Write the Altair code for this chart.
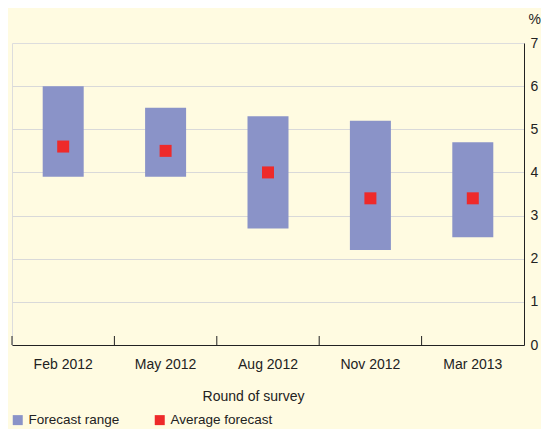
import altair as alt
import pandas as pd

rounds = ["Feb 2012", "May 2012", "Aug 2012", "Nov 2012", "Mar 2013"]
low = [3.9, 3.9, 2.7, 2.2, 2.5]
high = [6.0, 5.5, 5.3, 5.2, 4.7]
avg = [4.6, 4.5, 4.0, 3.4, 3.4]
y_ticks = [0, 1, 2, 3, 4, 5, 6, 7]

df = pd.DataFrame({"round": rounds, "low": low, "high": high, "avg": avg})

FONT = "Liberation Sans"
TXT = "#222222"
BG = "#FFFBE1"
FS = 14

W, H = 512, 302

x_enc = alt.X(
    "round:N",
    sort=rounds,
    scale=alt.Scale(paddingInner=0, paddingOuter=0),
    axis=alt.Axis(
        title="Round of survey",
        labelAngle=0,
        ticks=False,
        labelPadding=12,
        labelFontSize=FS,
        labelColor=TXT,
        titleFontSize=FS,
        titleFontWeight="normal",
        titleColor=TXT,
        titleX=241,
        titleY=55,
        titleAlign="center",
        titleAnchor="start",
        titleBaseline="alphabetic",
        domainColor=TXT,
        domainWidth=1,
        grid=False,
    ),
)

y_scale = alt.Scale(domain=[0, 7], nice=False)

color_scale = alt.Scale(
    domain=["Forecast range", "Average forecast"], range=["#8A93C8", "#EE2A2A"]
)

legend = alt.Legend(
    title=None,
    orient="none",
    direction="horizontal",
    legendX=-1,
    legendY=370,
    symbolType="square",
    symbolSize=100,
    symbolStrokeWidth=0,
    labelFontSize=13.5,
    labelColor=TXT,
    labelOffset=4,
    columnPadding=33,
    labelFont=FONT,
)

bars = alt.Chart(df).transform_calculate(series="'Forecast range'").mark_bar(size=41).encode(
    x=x_enc,
    y=alt.Y(
        "low:Q",
        scale=y_scale,
        axis=alt.Axis(
            orient="right",
            values=y_ticks,
            title="%",
            titleAngle=0,
            titleAlign="left",
            titleBaseline="alphabetic",
            titleX=4,
            titleY=-20,
            titleFontSize=FS,
            titleFontWeight="normal",
            titleColor=TXT,
            labelAlign="left",
            labelPadding=6,
            labelFontSize=FS,
            labelColor=TXT,
            ticks=False,
            domainColor=TXT,
            domainWidth=1,
            gridColor="#D9D9D9",
            gridWidth=1,
            gridOpacity={"condition": {"test": "datum.value >= 7", "value": 0}, "value": 1},
        ),
    ),
    y2="high:Q",
    color=alt.Color("series:N", scale=color_scale, legend=legend),
)

points = alt.Chart(df).transform_calculate(series="'Average forecast'").mark_square(size=144, opacity=1).encode(
    x=alt.X("round:N", sort=rounds),
    y=alt.Y("avg:Q"),
    color=alt.Color("series:N", scale=color_scale, legend=legend),
)

ticks = alt.Chart(df).mark_rule(color=TXT, strokeWidth=1).encode(
    x=alt.X("round:N", sort=rounds, bandPosition=0),
    y=alt.datum(0),
    y2=alt.value(H - 9),
)

chart = (
    alt.layer(bars, points, ticks)
    .properties(
        width=W,
        height=H,
        padding={"left": 4, "top": 35, "right": 17, "bottom": 84},
        autosize=alt.AutoSizeParams(type="none"),
        background=BG,
    )
    .configure_view(stroke=None)
    .configure(font=FONT)
)

chart.save("out.html", embed_options={"renderer": "svg", "actions": False})
